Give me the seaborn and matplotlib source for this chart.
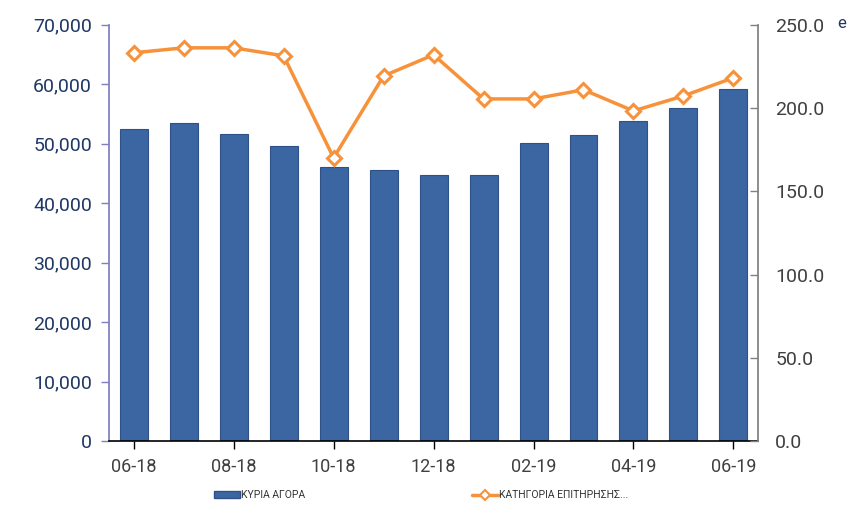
import numpy as np
import pandas as pd
import matplotlib
matplotlib.use('Agg')
import matplotlib.pyplot as plt
import seaborn as sns
from matplotlib.lines import Line2D
from matplotlib.patches import Patch

months = ['06-18', '07-18', '08-18', '09-18', '10-18', '11-18', '12-18',
          '01-19', '02-19', '03-19', '04-19', '05-19', '06-19']
kyria_agora = [52500, 53500, 51600, 49600, 46100, 45600, 44800,
               44700, 50100, 51500, 53800, 56000, 59200]
epitirisi = [233.2, 236.2, 236.2, 231.4, 170.1, 219.3, 232.0,
             205.5, 205.5, 211.0, 198.3, 207.3, 218.2]
shown_labels = ['06-18', '08-18', '10-18', '12-18', '02-19', '04-19', '06-19']

sns.set_theme(style='white')
plt.rcParams['font.family'] = ['Roboto', 'DejaVu Sans']

bar_col = '#3B66A2'
line_col = '#F7923A'
navy = '#1F3864'
grey = '#404040'

df = pd.DataFrame({'month': months, 'agora': kyria_agora, 'epit': epitirisi})

fig = plt.figure(figsize=(8.56, 5.07), dpi=100)
ax = fig.add_axes([0.127, 0.130, 0.759, 0.821])

sns.barplot(data=df, x='month', y='agora', color=bar_col, width=0.56,
            saturation=1, edgecolor='#2E5288', linewidth=0.8, ax=ax)
ax.set_xlim(-0.5, len(months) - 0.5)
ax.set_ylim(0, 70000)
ax.set_yticks(np.arange(0, 70001, 10000))
ax.set_yticklabels([f'{v:,}' for v in range(0, 70001, 10000)], color=navy, fontsize=14)
ax.set_xticks([months.index(m) for m in shown_labels])
ax.set_xticklabels(shown_labels, color=grey, fontsize=13)
ax.set_xlabel('')
ax.set_ylabel('')
ax.tick_params(axis='y', left=True, length=6, color='#7F7FBF', width=1, pad=6)
ax.tick_params(axis='x', bottom=True, length=6, color='black', width=1, pad=6)
for s in ['top', 'right']:
    ax.spines[s].set_visible(False)
ax.spines['left'].set_color('#7F7FBF')
ax.spines['bottom'].set_color('black')
ax.spines['bottom'].set_linewidth(1.2)

ax2 = ax.twinx()
sns.lineplot(x=np.arange(len(months)), y=epitirisi, color=line_col, linewidth=2.5,
             marker='D', markersize=7, markerfacecolor='white',
             markeredgecolor=line_col, markeredgewidth=2.2, ax=ax2)
ax2.set_ylim(0, 250)
ax2.set_yticks(np.arange(0, 251, 50))
ax2.set_yticklabels([f'{v:.1f}' for v in range(0, 251, 50)], color=grey, fontsize=14)
ax2.tick_params(axis='y', right=True, direction='in', length=6, color='#808080',
                width=1, pad=12)
for s in ['top', 'left', 'bottom']:
    ax2.spines[s].set_visible(False)
ax2.spines['right'].set_color('#808080')
ax2.set_ylabel('')

handles = [Patch(facecolor=bar_col, edgecolor='#2E5288'),
           Line2D([0], [0], color=line_col, linewidth=2.5, marker='D', markersize=5,
                  markerfacecolor='white', markeredgecolor=line_col, markeredgewidth=1.5)]
fig.legend(handles, ['ΚΥΡΙΑ ΑΓΟΡΑ', 'ΚΑΤΗΓΟΡΙΑ ΕΠΙΤΗΡΗΣΗΣ...'], loc='lower center',
           bbox_to_anchor=(0.492, -0.005), ncol=2, frameon=False, fontsize=7.5,
           columnspacing=16, handlelength=2.5, handletextpad=0.1, labelcolor='#333333')

fig.text(0.978, 0.945, 'e', color=navy, fontsize=12)

fig.savefig('out.png', dpi=100)
